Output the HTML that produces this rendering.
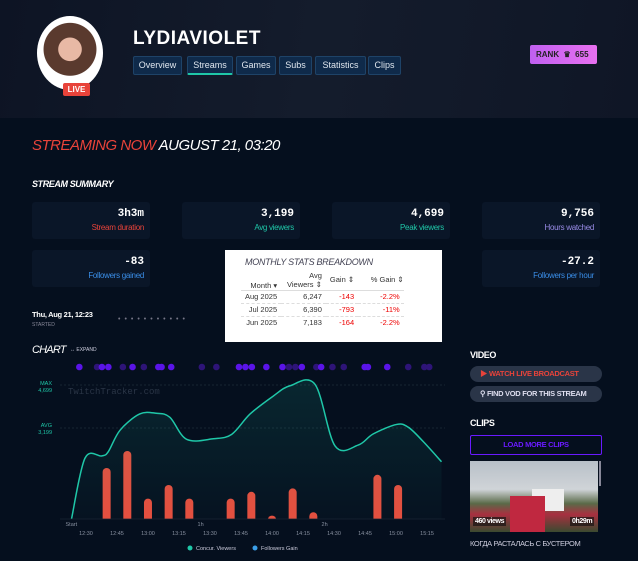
<!DOCTYPE html>
<html><head><meta charset="utf-8">
<style>
*{box-sizing:border-box;margin:0;padding:0}
body{width:638px;height:561px;overflow:hidden;background:#050f1e;font-family:"Liberation Sans","Noto Sans CJK SC",sans-serif;color:#fff;position:relative}
.abs{position:absolute}
.header{left:0;top:0;width:638px;height:118px;background:linear-gradient(100deg,#0d1424,#141c2c 50%,#0f1626)}
.tab{position:absolute;top:56px;height:19px;background:#0f2a4a;border:1px solid #1e4368;border-radius:2px;font-size:9px;color:#dfe6ee;text-align:center;line-height:17px}
.box{position:absolute;background:#0a1628;border-radius:3px;height:37px;text-align:right;padding:6px 6px 0 0}
.box .v{font-family:"Liberation Mono",monospace;font-size:11px;color:#fff;font-weight:bold}
.box .l{font-size:8px;margin-top:3px;letter-spacing:-0.3px}
.btn{position:absolute;left:470px;width:132px;height:16px;border-radius:8px;background:#2a3548;font-size:7.5px;font-weight:bold;line-height:16px;padding-left:10px;letter-spacing:-0.3px;white-space:nowrap;overflow:hidden}
table{border-collapse:collapse;font-size:7.5px;color:#333}
td,th{padding:0 4px;height:13px}
</style></head><body>
<div class="abs header"></div>
<div class="abs" style="left:37px;top:16px;width:66px;height:74px;border-radius:50%;background:radial-gradient(circle at 50% 45%,#e8b9a5 0 22%,#5a3a2e 23% 50%,#fff 51%)"></div>
<div class="abs" style="left:63px;top:83px;width:27px;height:13px;background:#e8433a;border-radius:2px;font-size:8px;font-weight:bold;text-align:center;line-height:13px">LIVE</div>
<div class="abs" style="left:133px;top:28px;font-size:19px;font-weight:bold;letter-spacing:0.5px">LYDIAVIOLET</div>
<div class="tab" style="left:133px;width:49px">Overview</div>
<div class="tab" style="left:187px;width:46px;border-bottom:2px solid #1fc7a8">Streams</div>
<div class="tab" style="left:236px;width:40px">Games</div>
<div class="tab" style="left:279px;width:33px">Subs</div>
<div class="tab" style="left:315px;width:51px">Statistics</div>
<div class="tab" style="left:368px;width:33px">Clips</div>
<div class="abs" style="left:530px;top:45px;width:67px;height:19px;background:linear-gradient(90deg,#c060f0,#e870f0);border-radius:2px;font-size:8px;font-weight:bold;color:#222;line-height:19px;padding-left:6px">RANK &nbsp;♛&nbsp; 655</div>

<div class="abs" style="left:32px;top:137px;font-size:15px;font-style:italic;letter-spacing:-0.5px"><span style="color:#e8433a">STREAMING NOW</span> AUGUST 21, 03:20</div>
<div class="abs" style="left:32px;top:179px;font-size:9px;font-style:italic;font-weight:bold;letter-spacing:-0.4px">STREAM SUMMARY</div>

<div class="box" style="left:32px;top:202px;width:118px"><div class="v">3h3m</div><div class="l" style="color:#e8433a">Stream duration</div></div>
<div class="box" style="left:182px;top:202px;width:118px"><div class="v">3,199</div><div class="l" style="color:#1fc7a8">Avg viewers</div></div>
<div class="box" style="left:332px;top:202px;width:118px"><div class="v">4,699</div><div class="l" style="color:#1fc7a8">Peak viewers</div></div>
<div class="box" style="left:482px;top:202px;width:118px"><div class="v">9,756</div><div class="l" style="color:#9a8ce8">Hours watched</div></div>
<div class="box" style="left:32px;top:250px;width:118px"><div class="v">-83</div><div class="l" style="color:#3a8ee8">Followers gained</div></div>
<div class="box" style="left:482px;top:250px;width:118px"><div class="v">-27.2</div><div class="l" style="color:#3a8ee8">Followers per hour</div></div>

<div class="abs" style="left:225px;top:250px;width:217px;height:92px;background:#fff;padding:7px 0 0 20px">
<div style="font-size:9px;font-style:italic;color:#445;letter-spacing:-0.3px">MONTHLY STATS BREAKDOWN</div>
<table style="margin-top:3px;margin-left:-4px">
<tr><th style="text-align:right;vertical-align:bottom;font-weight:normal;height:20px">Month ▾</th><th style="text-align:right;font-weight:normal;height:20px">Avg<br>Viewers ⇕</th><th style="text-align:right;font-weight:normal">Gain ⇕</th><th style="text-align:right;font-weight:normal;padding-right:0">% Gain ⇕</th></tr>
<tr style="border-top:1px solid #ddd"><td style="text-align:right">Aug 2025</td><td style="text-align:right;padding-left:22px">6,247</td><td style="text-align:right;color:#e00">-143</td><td style="text-align:right;color:#e00;padding-left:22px">-2.2%</td></tr>
<tr style="border-top:1px dashed #ddd"><td style="text-align:right">Jul 2025</td><td style="text-align:right">6,390</td><td style="text-align:right;color:#e00">-793</td><td style="text-align:right;color:#e00">-11%</td></tr>
<tr style="border-top:1px dashed #ddd"><td style="text-align:right">Jun 2025</td><td style="text-align:right">7,183</td><td style="text-align:right;color:#e00">-164</td><td style="text-align:right;color:#e00">-2.2%</td></tr>
</table></div>

<div class="abs" style="left:32px;top:310px;font-size:7.5px;font-weight:bold;letter-spacing:-0.3px">Thu, Aug 21, 12:23</div>
<div class="abs" style="left:32px;top:322px;font-size:5px;color:#889">STARTED</div>
<div class="abs" style="left:118px;top:316px;font-size:7px;color:#778;letter-spacing:4px">•••••••••••</div>

<div class="abs" style="left:32px;top:344px;font-size:11px;font-style:italic;letter-spacing:-0.8px">CHART</div>
<div class="abs" style="left:70px;top:347px;font-size:5px;color:#ccd">↔ EXPAND</div>

<svg class="abs" style="left:0;top:0" width="460" height="561">
<defs><linearGradient id="fg" x1="0" y1="0" x2="0" y2="1"><stop offset="0" stop-color="#1fc7a8" stop-opacity="0.13"/><stop offset="1" stop-color="#1fc7a8" stop-opacity="0.02"/></linearGradient></defs>
<g id="dots"></g>
<text x="68" y="394" font-family="Liberation Mono" font-size="9" fill="#2a3546">TwitchTracker.com</text>
<line x1="60" x2="445" y1="385" y2="385" stroke="#2a3a48" stroke-dasharray="2,2" stroke-width="0.6"/>
<line x1="60" x2="445" y1="428" y2="428" stroke="#2a3a48" stroke-dasharray="2,2" stroke-width="0.6"/>
<text x="52" y="385" font-size="5.5" fill="#1fc7a8" text-anchor="end">MAX</text>
<text x="52" y="392" font-size="5.5" fill="#1fc7a8" text-anchor="end">4,699</text>
<text x="52" y="427" font-size="5.5" fill="#1fc7a8" text-anchor="end">AVG</text>
<text x="52" y="434" font-size="5.5" fill="#1fc7a8" text-anchor="end">3,199</text>
<g id="bars"></g>
<path id="area" fill="url(#fg)"/>
<path id="line" fill="none" stroke="#1fc7a8" stroke-width="1.5"/>
<line x1="60" x2="445" y1="519" y2="519" stroke="#1a2636" stroke-width="0.8"/>
<g id="xt" font-size="5.5" fill="#8890a0"></g>
<circle cx="190" cy="548" r="2.5" fill="#1fc7a8"/><text x="196" y="550" font-size="5.5" fill="#ccd">Concur. Viewers</text>
<circle cx="255" cy="548" r="2.5" fill="#3a9ee8"/><text x="261" y="550" font-size="5.5" fill="#ccd">Followers Gain</text>
</svg>

<div class="abs" style="left:470px;top:350px;font-size:9px;font-weight:bold;letter-spacing:-0.4px">VIDEO</div>
<div class="btn" style="top:366px;color:#e8433a">▶ WATCH LIVE BROADCAST</div>
<div class="btn" style="top:386px;color:#dde">⚲ FIND VOD FOR THIS STREAM</div>
<div class="abs" style="left:470px;top:418px;font-size:9px;font-weight:bold;letter-spacing:-0.4px">CLIPS</div>
<div class="abs" style="left:470px;top:435px;width:132px;height:20px;border:1px solid #6a1aff;border-radius:2px;font-size:7.5px;font-weight:bold;color:#6a1aff;text-align:center;line-height:18px;letter-spacing:-0.3px">LOAD MORE CLIPS</div>
<div class="abs" style="left:470px;top:461px;width:128px;height:71px;background:linear-gradient(180deg,#b8c0c8 0%,#d0d4d8 40%,#5a6a48 60%,#a83040 75%,#3a4a30 100%)">
<div class="abs" style="left:62px;top:28px;width:32px;height:22px;background:#eee"></div>
<div class="abs" style="left:40px;top:35px;width:35px;height:36px;background:#c02840"></div>
<div class="abs" style="left:3px;top:56px;background:#111a;font-size:7px;font-weight:bold;padding:1px 2px;letter-spacing:-0.4px">460 views</div>
<div class="abs" style="left:100px;top:56px;background:#111a;font-size:7px;font-weight:bold;padding:1px 2px;letter-spacing:-0.4px">0h29m</div>
</div>
<div class="abs" style="left:599px;top:461px;width:2px;height:25px;background:#889"></div>
<div class="abs" style="left:470px;top:539px;font-size:7.5px;color:#ccd;letter-spacing:-0.4px">КОГДА РАСТАЛАСЬ С БУСТЕРОМ</div>

<script>
// minutes since start (12:23)
const viewerMinutes=[0,6.5,14.6,17.8,23.5,33,41,47.6,55.7,68.6,77.5,86.4,97.6,105.7,117.8,127.5,138.7,146,157.3,163,170.2,179];
const viewerValues=[0,2120,2200,2350,3100,3665,3690,3550,2780,2800,2955,3665,4290,4650,4699,2550,2580,2970,3300,3200,2700,2000];
const gainMinutes=[17,27,37,47,57,77,87,97,107,117,148,158];
const gainValues=[15,20,6,10,6,6,8,1,9,2,13,10];
const tickLabels=["12:30","12:45","13:00","13:15","13:30","13:45","14:00","14:15","14:30","14:45","15:00","15:15"];
const tickMinutes=[7,22,37,52,67,82,97,112,127,142,157,172];
const hourLabels=["Start","1h","2h"];
const hourMinutes=[0,60,120];
const eventMinutes=[1.5,7,8.5,10.5,15,18,21.5,26,27,30,39.5,44,51,53,55,59.5,64.5,66.5,68.5,70.5,75,76.5,80,83.5,90,91,97,103.5,108.5,110];
const eventStrong=[1,0,1,1,0,1,0,1,1,1,0,0,1,1,1,1,1,0,0,1,0,1,0,0,1,1,1,0,0,0];
const NS="http://www.w3.org/2000/svg";
const x=m=>71.5+m*2.067, y=v=>519-v/34.9, yb=v=>v*3.4;
function smooth(){let p=viewerMinutes.map((m,i)=>[x(m),y(viewerValues[i])]);let s="M"+p[0];for(let i=0;i<p.length-1;i++){const p0=p[i-1]||p[i],p1=p[i],p2=p[i+1],p3=p[i+2]||p2;const c1=[p1[0]+(p2[0]-p0[0])/6,p1[1]+(p2[1]-p0[1])/6],c2=[p2[0]-(p3[0]-p1[0])/6,p2[1]-(p3[1]-p1[1])/6];s+="C"+c1+" "+c2+" "+p2;}return s;}
const sp=smooth();
document.getElementById('line').setAttribute('d',sp);
document.getElementById('area').setAttribute('d',sp+"L"+x(viewerMinutes[viewerMinutes.length-1])+",519L"+x(0)+",519Z");
const bars=document.getElementById('bars');
gainMinutes.forEach((m,i)=>{const r=document.createElementNS(NS,'path');const h=yb(gainValues[i]);const bx=x(m)-4,top=519-h,rr=Math.min(4,h);
r.setAttribute('d',`M${bx},519V${top+rr}A4,${rr} 0 0 1 ${bx+8},${top+rr}V519Z`);r.setAttribute('fill','#e84d3d');


bars.appendChild(r);});
const xt=document.getElementById('xt');
tickLabels.forEach((t,i)=>{const e=document.createElementNS(NS,'text');e.setAttribute('x',x(tickMinutes[i]));e.setAttribute('y',535);e.setAttribute('text-anchor','middle');e.textContent=t;


xt.appendChild(e);});
hourLabels.forEach((t,i)=>{const e=document.createElementNS(NS,'text');e.setAttribute('x',x(hourMinutes[i])+(i?2:-6));e.setAttribute('y',526);e.textContent=t;


xt.appendChild(e);});
const dots=document.getElementById('dots');
eventMinutes.forEach((m,i)=>{const c=document.createElementNS(NS,'circle');c.setAttribute('cx',x(m*1.56)+3);c.setAttribute('cy',367);c.setAttribute('r',3.3);c.setAttribute('fill',eventStrong[i]?'#5a14e8':'#2e1478');


dots.appendChild(c);});
</script>
</body></html>
